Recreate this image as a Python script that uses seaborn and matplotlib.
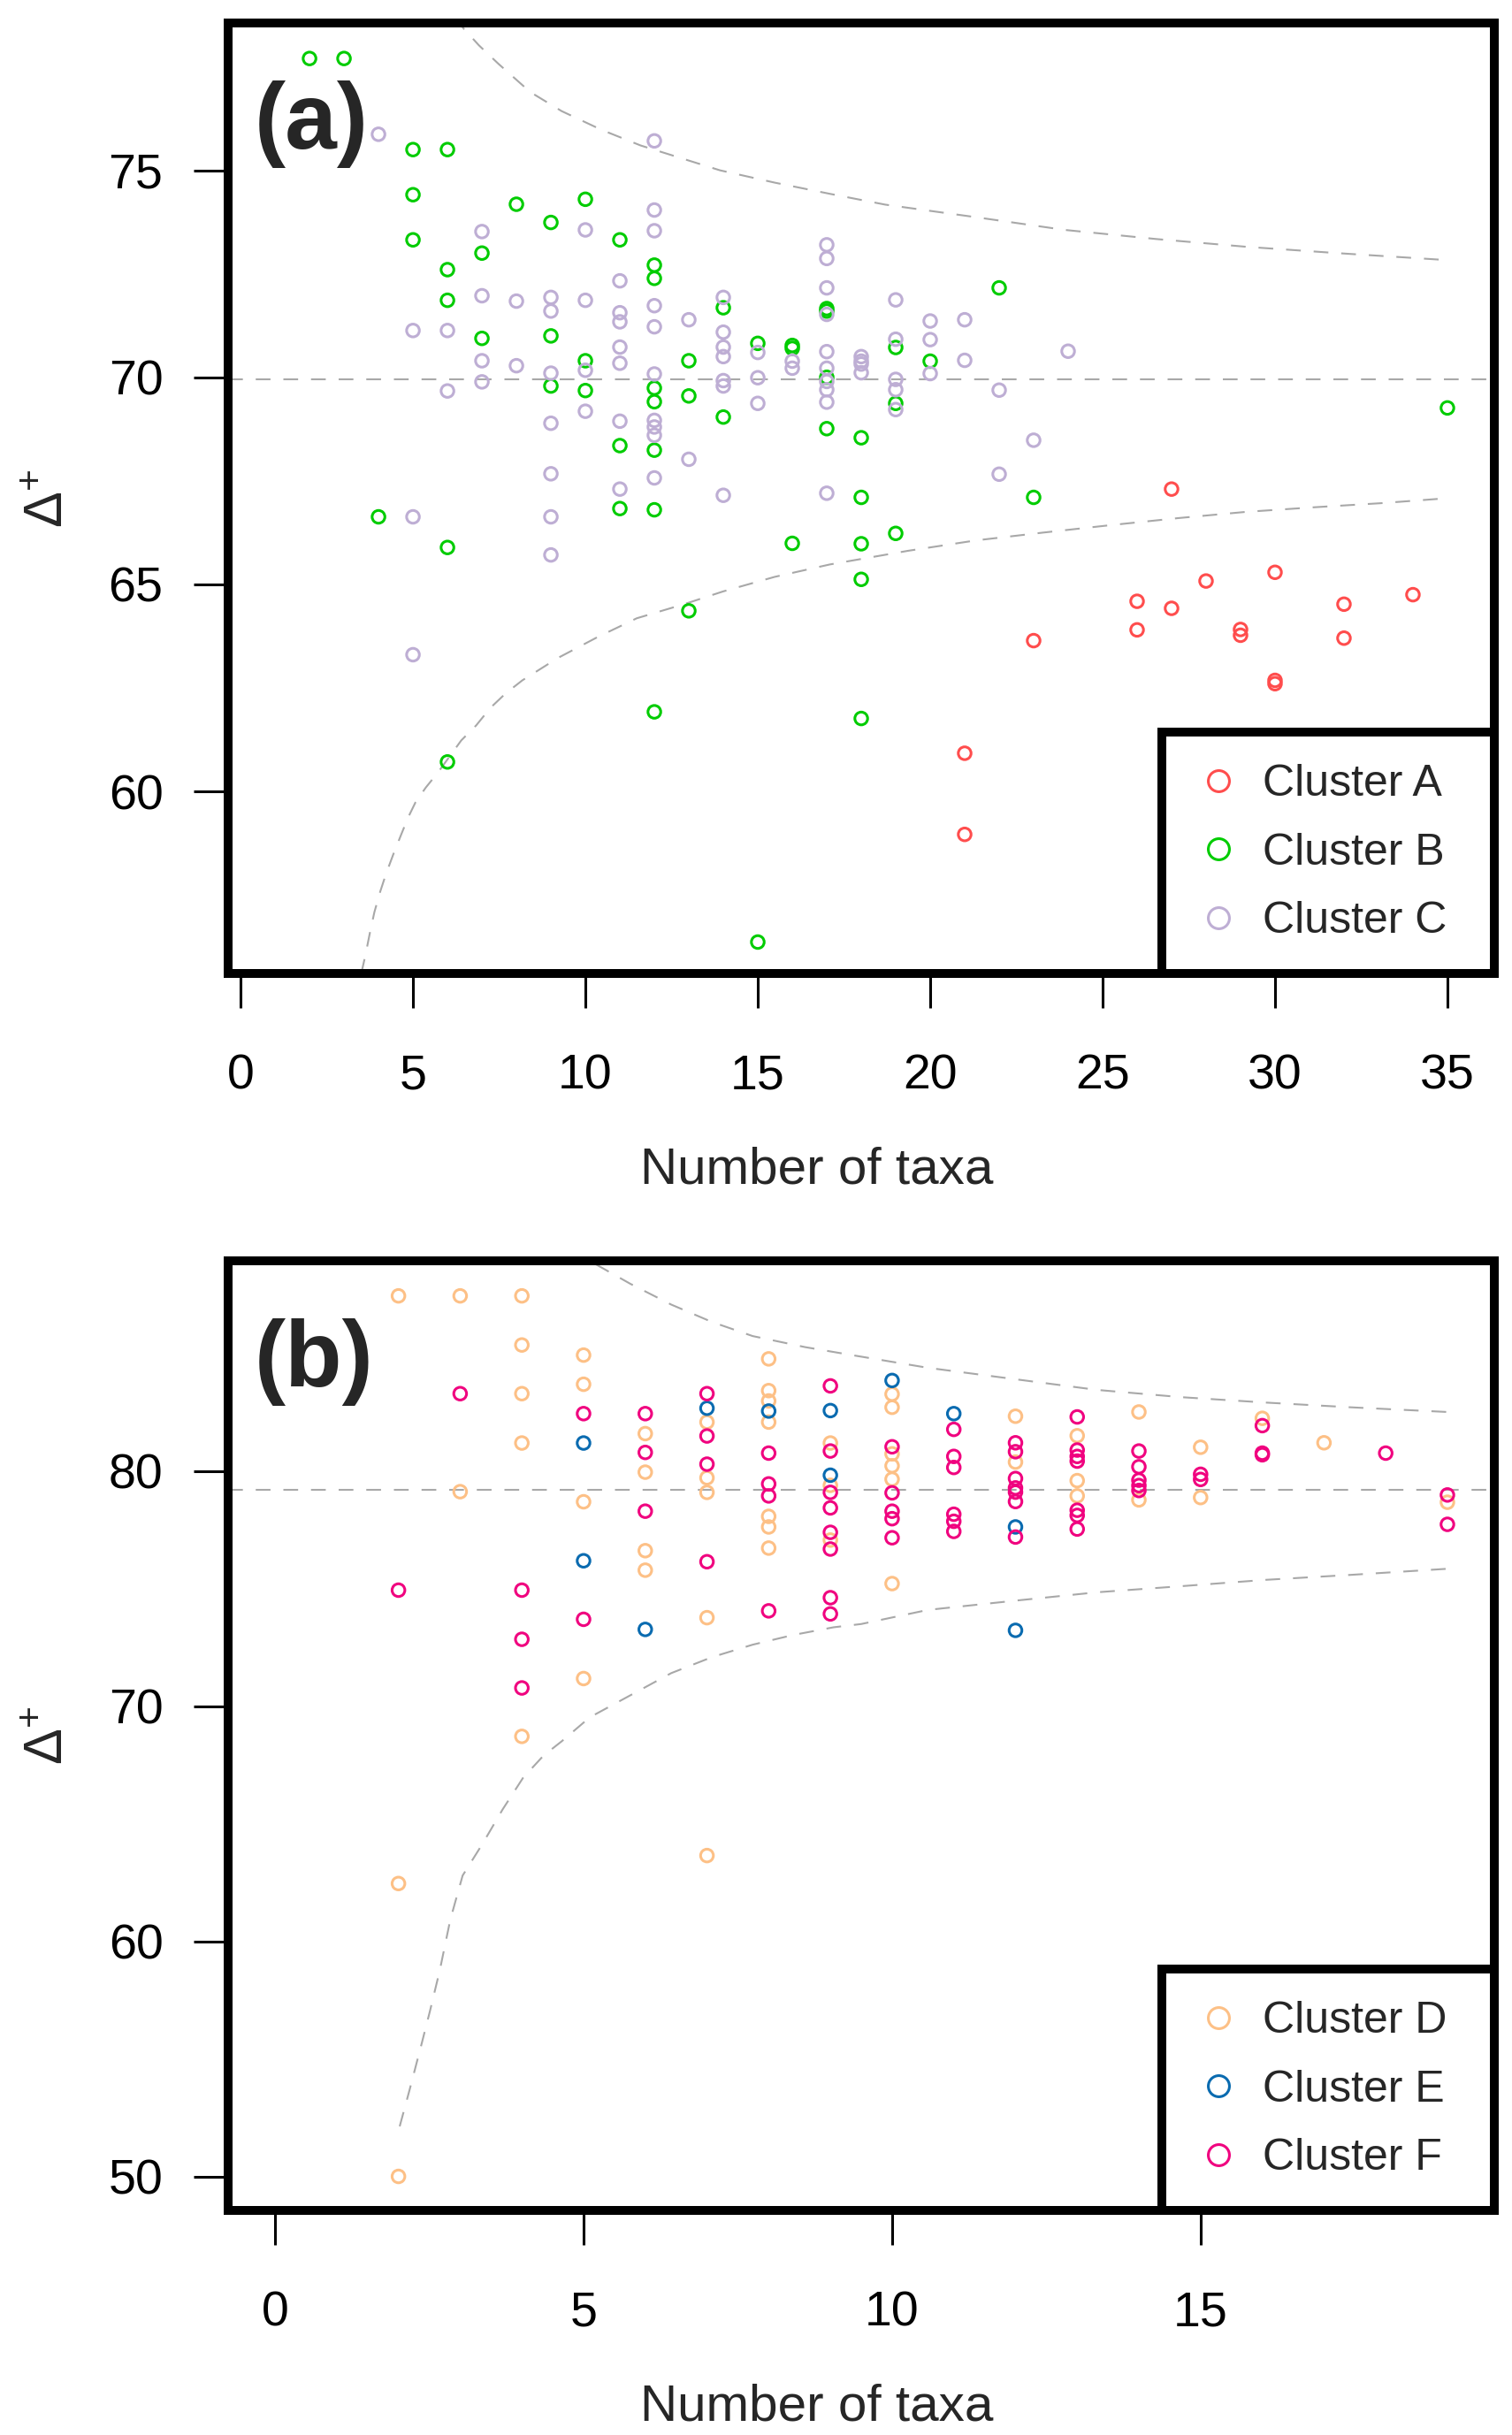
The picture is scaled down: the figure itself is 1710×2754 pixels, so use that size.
import numpy as np
import pandas as pd
import seaborn as sns
import matplotlib
matplotlib.use("Agg")
import matplotlib.pyplot as plt
from matplotlib.lines import Line2D

# ---- panel (a) data: number of taxa vs Delta+ ----
a_x = [21, 21, 23, 26, 26, 27, 27, 28, 29, 29, 30, 30, 30, 32, 32, 34]
a_y = [60.92, 58.96, 63.64, 64.59, 63.90, 67.30, 64.42, 65.08, 63.91, 63.77,
       65.29, 62.68, 62.60, 64.52, 63.70, 64.75]

b_x = [2, 3, 4, 5, 5, 5, 6, 6, 6, 6, 6, 7, 7, 8, 9, 9, 9, 10, 10, 10,
       11, 11, 11, 12, 12, 12, 12, 12, 12, 12, 13, 13, 13, 14, 14, 15, 15,
       16, 16, 16, 17, 17, 17, 17, 18, 18, 18, 18, 18, 19, 19, 19, 20, 22, 23, 35]
b_y = [77.70, 77.70, 66.63, 75.50, 74.41, 73.32, 75.50, 72.60, 71.86, 65.89, 60.71,
       73.00, 70.94, 74.18, 73.74, 71.00, 69.79, 74.30, 70.40, 69.68,
       73.32, 68.35, 66.83, 72.71, 72.39, 69.74, 69.41, 68.24, 66.80, 61.92,
       70.40, 69.55, 64.36, 71.68, 69.04, 70.82, 56.36,
       70.77, 70.70, 65.99, 71.66, 71.60, 70.00, 68.76, 68.54, 67.10, 65.98, 65.12, 61.76,
       70.72, 69.37, 66.23, 70.39, 72.16, 67.10, 69.26]

c_x = [4, 5, 5, 5, 6, 6, 7, 7, 7, 7, 8, 8, 9, 9, 9, 9, 9, 9, 9,
       10, 10, 10, 10, 11, 11, 11, 11, 11, 11, 11,
       12, 12, 12, 12, 12, 12, 12, 12, 12, 12, 13, 13,
       14, 14, 14, 14, 14, 14, 14, 15, 15, 15, 16, 16,
       17, 17, 17, 17, 17, 17, 17, 17, 17, 17, 18, 18, 18, 18,
       19, 19, 19, 19, 19, 20, 20, 20, 21, 21, 22, 22, 23, 24]
c_y = [75.87, 71.13, 66.63, 63.30, 71.13, 69.67, 73.52, 71.97, 70.40, 69.89, 71.84, 70.28,
       71.93, 71.60, 70.10, 68.89, 67.67, 66.63, 65.71,
       73.56, 71.86, 70.17, 69.18, 72.33, 71.56, 71.34, 70.73, 70.34, 68.94, 67.30,
       75.71, 74.04, 73.54, 71.73, 71.22, 70.08, 68.96, 68.80, 68.60, 67.57, 71.39, 68.02,
       71.93, 71.09, 70.73, 70.50, 69.92, 69.79, 67.15, 70.60, 69.99, 69.37, 70.39, 70.22,
       73.20, 72.87, 72.16, 71.52, 70.62, 70.22, 69.90, 69.70, 69.40, 67.20,
       70.50, 70.39, 70.32, 70.11, 71.87, 70.92, 69.95, 69.70, 69.22,
       71.36, 70.91, 70.09, 71.39, 70.41, 69.69, 67.66, 68.48, 70.63]

# funnel (95% limits) and mean
a_mean = 69.95
a_up_x = [6.25, 6.45, 6.91, 7.48, 8.4, 9.31, 10.46, 11.6, 12.75, 13.9, 15.5, 17.1,
          18.7, 21.3, 23.9, 26.55, 29.2, 31.8, 35.0]
a_up_y = [78.7, 78.44, 78.02, 77.57, 76.89, 76.43, 75.98, 75.6, 75.3, 75.0, 74.7, 74.43,
          74.17, 73.87, 73.56, 73.34, 73.15, 73.0, 72.83]
a_lo_x = [3.50, 3.62, 3.75, 3.88, 4.05, 4.22, 4.43, 4.65, 4.86, 5.07, 5.37, 5.71, 6.06,
          6.40, 6.83, 7.25, 7.68, 8.17, 9.2, 10.34, 11.49, 12.86, 14.0, 15.49, 17.09,
          19.36, 21.32, 23.28, 25.24, 27.2, 29.16, 31.12, 33.08, 35.0]
a_lo_y = [55.6, 56.04, 56.58, 57.08, 57.58, 58.01, 58.48, 58.94, 59.37, 59.73, 60.09,
          60.44, 60.84, 61.23, 61.59, 62.02, 62.36, 62.68, 63.22, 63.72, 64.18, 64.52,
          64.83, 65.18, 65.48, 65.81, 66.06, 66.25, 66.43, 66.6, 66.75, 66.86, 66.96, 67.08]

# ---- panel (b) data ----
d_x = [2, 2, 2, 3, 3, 4, 4, 4, 4, 4, 5, 5, 5, 5, 6, 6, 6, 6, 7, 7, 7, 7, 7,
       8, 8, 8, 8, 8, 8, 8, 9, 9, 9, 10, 10, 10, 10, 10, 10,
       12, 12, 13, 13, 13, 14, 14, 15, 15, 16, 17, 19]
d_y = [87.46, 62.46, 50.00, 87.46, 79.13, 87.46, 85.37, 83.30, 81.20, 68.72,
       84.94, 83.70, 78.70, 71.18, 81.60, 79.96, 76.62, 75.79,
       82.09, 79.72, 79.10, 73.77, 63.65,
       84.78, 83.43, 82.99, 82.09, 78.08, 77.63, 76.73, 81.20, 79.40, 77.07,
       83.28, 82.72, 80.74, 80.23, 79.66, 75.22,
       82.34, 80.39, 81.51, 79.60, 78.95, 82.52, 78.78, 81.02, 78.88, 82.25, 81.21, 78.68]

e_x = [5, 5, 6, 7, 8, 9, 9, 10, 11, 12, 12]
e_y = [81.20, 76.19, 73.27, 82.68, 82.56, 82.58, 79.83, 83.86, 82.45, 77.63, 73.23]

f_x = [2, 3, 4, 4, 4, 5, 5, 6, 6, 6, 7, 7, 7, 7, 8, 8, 8, 8,
       9, 9, 9, 9, 9, 9, 9, 9, 10, 10, 10, 10, 10,
       11, 11, 11, 11, 11, 11, 12, 12, 12, 12, 12, 12, 12,
       13, 13, 13, 13, 13, 13, 13, 14, 14, 14, 14, 14,
       15, 15, 16, 16, 16, 18, 19, 19]
f_y = [74.94, 83.30, 74.94, 72.85, 70.78, 82.45, 73.70, 82.45, 80.80, 78.30,
       83.30, 81.50, 80.30, 76.15, 80.77, 79.46, 78.95, 74.06,
       83.63, 80.86, 79.10, 78.44, 77.40, 76.69, 74.62, 73.93,
       81.04, 79.08, 78.30, 77.98, 77.17,
       81.78, 80.63, 80.16, 78.17, 77.87, 77.44,
       81.21, 80.83, 79.69, 79.29, 79.11, 78.71, 77.20,
       82.31, 80.90, 80.63, 80.43, 78.34, 78.12, 77.54,
       80.86, 80.19, 79.62, 79.39, 79.18,
       79.87, 79.65, 81.94, 80.77, 80.70, 80.77, 78.99, 77.74]

b_mean = 79.2
b_up_x = [5.2, 5.76, 6.42, 7.08, 7.74, 8.59, 9.35, 10.58, 11.95, 13.32, 14.69, 16.06,
          17.43, 19.0]
b_up_y = [88.8, 87.97, 87.09, 86.35, 85.75, 85.28, 84.94, 84.4, 83.93, 83.46, 83.15,
          82.92, 82.72, 82.52]
b_lo_x = [2.02, 2.18, 2.38, 2.51, 2.67, 2.84, 3.04, 3.36, 3.69, 4.02, 4.35, 4.65, 5.1,
          5.76, 6.42, 7.08, 7.74, 8.39, 9.05, 9.5, 10.58, 12.02, 13.32, 14.69, 16.06,
          17.43, 19.0]
b_lo_y = [52.13, 53.68, 55.69, 57.03, 58.77, 60.92, 62.8, 64.14, 65.62, 66.96, 67.9,
          68.52, 69.53, 70.47, 71.41, 72.09, 72.62, 73.03, 73.36, 73.5, 74.1, 74.5,
          74.85, 75.11, 75.38, 75.59, 75.85]

colors_a = {"Cluster A": "#FF4D4D", "Cluster B": "#00CC00", "Cluster C": "#BEAED4"}
colors_b = {"Cluster D": "#FDC086", "Cluster E": "#0A6BB0", "Cluster F": "#F0027F"}

df_a = pd.concat([
    pd.DataFrame({"taxa": a_x, "delta": a_y, "cluster": "Cluster A"}),
    pd.DataFrame({"taxa": b_x, "delta": b_y, "cluster": "Cluster B"}),
    pd.DataFrame({"taxa": c_x, "delta": c_y, "cluster": "Cluster C"}),
])
df_b = pd.concat([
    pd.DataFrame({"taxa": d_x, "delta": d_y, "cluster": "Cluster D"}),
    pd.DataFrame({"taxa": e_x, "delta": e_y, "cluster": "Cluster E"}),
    pd.DataFrame({"taxa": f_x, "delta": f_y, "cluster": "Cluster F"}),
])

sns.set_style("ticks")
plt.rcParams["font.family"] = ["Liberation Sans", "DejaVu Sans"]
plt.rcParams["mathtext.fontset"] = "custom"
plt.rcParams["mathtext.rm"] = "Liberation Sans"

fig = plt.figure(figsize=(8.55, 13.77), dpi=200)
ax1 = fig.add_axes([0.1509, 0.6002, 0.8374, 0.3904])
ax2 = fig.add_axes([0.1509, 0.0922, 0.8374, 0.3900])

grey = "#A8A8A8"
dash = (0, (8, 7))


def draw_panel(ax, df, pal, mean, up, lo, xlim, ylim, xticks, yticks, tag):
    ax.axhline(mean, color=grey, lw=0.75, ls=dash, zorder=1)
    ax.plot(up[0], up[1], color=grey, lw=0.75, ls=dash, zorder=1)
    ax.plot(lo[0], lo[1], color=grey, lw=0.75, ls=dash, zorder=1)
    sns.scatterplot(data=df, x="taxa", y="delta", hue="cluster", palette=pal,
                    s=27, linewidth=1.1, legend=False, ax=ax, zorder=3)
    pts = ax.collections[-1]
    pts.set_edgecolors(pts.get_facecolors())
    pts.set_facecolors("none")

    ax.set_xlim(*xlim)
    ax.set_ylim(*ylim)
    ax.set_xticks(xticks)
    ax.set_yticks(yticks)
    for sp in ax.spines.values():
        sp.set_linewidth(3.6)
        sp.set_color("black")
    ax.tick_params(axis="both", direction="out", length=14, width=1.1,
                   labelsize=20, colors="black")
    ax.tick_params(axis="x", pad=18.5)
    ax.tick_params(axis="y", pad=12.5)
    ax.set_xlabel("Number of taxa", fontsize=21, labelpad=19)
    ax.xaxis.label.set_x(0.465)
    ax.set_ylabel(r"$\mathregular{\Delta^{+}}$", fontsize=22)
    ax.yaxis.set_label_coords(-0.122, 0.5)
    ax.text(0.021, 0.893, tag, transform=ax.transAxes, fontsize=38,
            fontweight="bold", ha="left", va="center")

    handles = [Line2D([], [], marker="o", ls="none", mfc="none", mec=c,
                      ms=8.6, mew=1.1, label=k) for k, c in pal.items()]
    leg = ax.legend(handles=handles, loc="lower left",
                    bbox_to_anchor=(0.7374, 0.0, 0.2626, 0.25), mode="expand",
                    borderaxespad=0, fontsize=18, frameon=True, fancybox=False,
                    framealpha=1, edgecolor="black", borderpad=0.72,
                    labelspacing=0.63, handlelength=1.12, handletextpad=0.45)
    leg.get_frame().set_linewidth(3.6)
    leg.set_zorder(5)


draw_panel(ax1, df_a, colors_a, a_mean, (a_up_x, a_up_y), (a_lo_x, a_lo_y),
           (-0.36, 36.36), (55.6, 78.56), range(0, 36, 5), [60, 65, 70, 75], "(a)")
draw_panel(ax2, df_b, colors_b, b_mean, (b_up_x, b_up_y), (b_lo_x, b_lo_y),
           (-0.76, 19.76), (48.55, 88.95), [0, 5, 10, 15], [50, 60, 70, 80], "(b)")

fig.savefig("out.png", dpi=200)
